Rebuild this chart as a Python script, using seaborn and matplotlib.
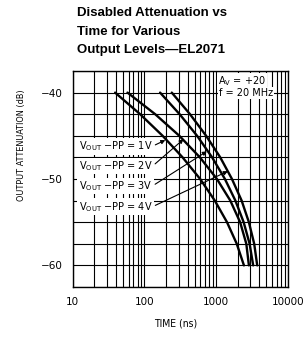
import numpy as np
import pandas as pd
import seaborn as sns
import matplotlib.pyplot as plt
from matplotlib.ticker import FixedLocator, NullFormatter, LogLocator

# output attenuation (dB) sampled along each curve
atten = [-40, -42.5, -45, -47.5, -50, -52.5, -55, -57.5, -60]
# time (ns) for each output level
time_1v = [39, 87, 179, 340, 597, 955, 1413, 1932, 2432]
time_2v = [58, 141, 306, 593, 1023, 1571, 2153, 2625, 2852]
time_3v = [165, 309, 541, 877, 1321, 1849, 2410, 2918, 3273]
time_4v = [240, 431, 723, 1138, 1656, 2259, 2851, 3381, 3724]
levels = ["1V", "2V", "3V", "4V"]

# where each label arrow lands on its curve (time, dB)
arrow_tip_t = [195, 350, 740, 1450]
arrow_tip_db = [-45.5, -45.4, -46.8, -49.1]
label_db = [-46.2, -48.5, -50.8, -53.2]

x_ticks = [10, 100, 1000, 10000]
y_ticks = [-40, -50, -60]

rows = []
for lvl, ts in zip(levels, [time_1v, time_2v, time_3v, time_4v]):
    for t, a in zip(ts, atten):
        rows.append({"level": lvl, "time": t, "atten": a})
df = pd.DataFrame(rows)

sns.set_theme(style="white")
plt.rcParams["font.family"] = ["DejaVu Sans"]
plt.rcParams["text.color"] = "black"
plt.rcParams["xtick.color"] = "black"
plt.rcParams["ytick.color"] = "black"

fig = plt.figure(figsize=(3.04, 3.41), dpi=100)
ax = fig.add_axes([72.7 / 304, 1 - 287 / 341, (288 - 72.7) / 304, (287 - 71) / 341])
ax.set_facecolor("white")

sns.lineplot(data=df, x="time", y="atten", hue="level", units="level",
             estimator=None, sort=False, palette=["black"] * 4,
             linewidth=1.7, legend=False, ax=ax, zorder=3)
ax.set_xlabel("")
ax.set_ylabel("")

ax.set_xscale("log")
ax.set_xlim(10, 10000)
ax.set_ylim(-62.5, -37.5)

ax.xaxis.set_major_locator(FixedLocator(x_ticks))
ax.set_xticklabels([str(v) for v in x_ticks])
ax.xaxis.set_minor_locator(LogLocator(base=10, subs=np.arange(2, 10)))
ax.xaxis.set_minor_formatter(NullFormatter())
ax.yaxis.set_major_locator(FixedLocator(y_ticks))
ax.set_yticklabels([str(v).replace("-", "\u2212") for v in y_ticks])
ax.yaxis.set_minor_locator(FixedLocator(np.arange(-62.5, -37.4, 2.5)))

ax.grid(True, which="both", axis="x", color="black", linewidth=0.8)
ax.grid(True, which="both", axis="y", color="black", linewidth=0.8)
ax.tick_params(axis="both", which="both", length=0, labelsize=7.5, pad=7,
               labelcolor="black")
for s in ax.spines.values():
    s.set_color("black")
    s.set_linewidth(1.0)

for lvl, tt, td, ly in zip(levels, arrow_tip_t, arrow_tip_db, label_db):
    ax.annotate(r"$\mathregular{V_{OUT}}$ $-$PP = " + lvl, xy=(tt, td), xytext=(12.2, ly),
                fontsize=7, ha="left", va="center", zorder=5, color="black",
                bbox=dict(boxstyle="square,pad=0.15", fc="white", ec="none"),
                arrowprops=dict(arrowstyle="-|>", color="black", lw=0.8,
                                mutation_scale=6, shrinkA=1, shrinkB=0,
                                relpos=(1.0, 0.5)))

ax.text(1070, -38.7, r"$\mathregular{A_V}$ = +20", fontsize=7, ha="left", va="center",
        bbox=dict(boxstyle="square,pad=0.1", fc="white", ec="none"), zorder=5)
ax.text(1090, -40, "f = 20 MHz", fontsize=7, ha="left", va="center",
        bbox=dict(boxstyle="square,pad=0.1", fc="white", ec="none"), zorder=5)

fig.text(22 / 304, 1 - 145 / 341, "OUTPUT ATTENUATION (dB)", rotation=90,
         ha="center", va="center", fontsize=6.5, fontstretch="condensed")
fig.text(176 / 304, 1 - 323 / 341, "TIME (ns)", ha="center", va="center", fontsize=7.5,
         fontstretch="condensed")

for i, line in enumerate(["Disabled Attenuation vs", "Time for Various",
                          "Output Levels\u2014EL2071"]):
    fig.text(77 / 304, 1 - (13.5 + 18.3 * i) / 341, line, ha="left", va="center",
             fontsize=9.5, fontweight="bold", family=["Liberation Sans", "DejaVu Sans"])

fig.savefig("out.png", dpi=100, facecolor="white")
